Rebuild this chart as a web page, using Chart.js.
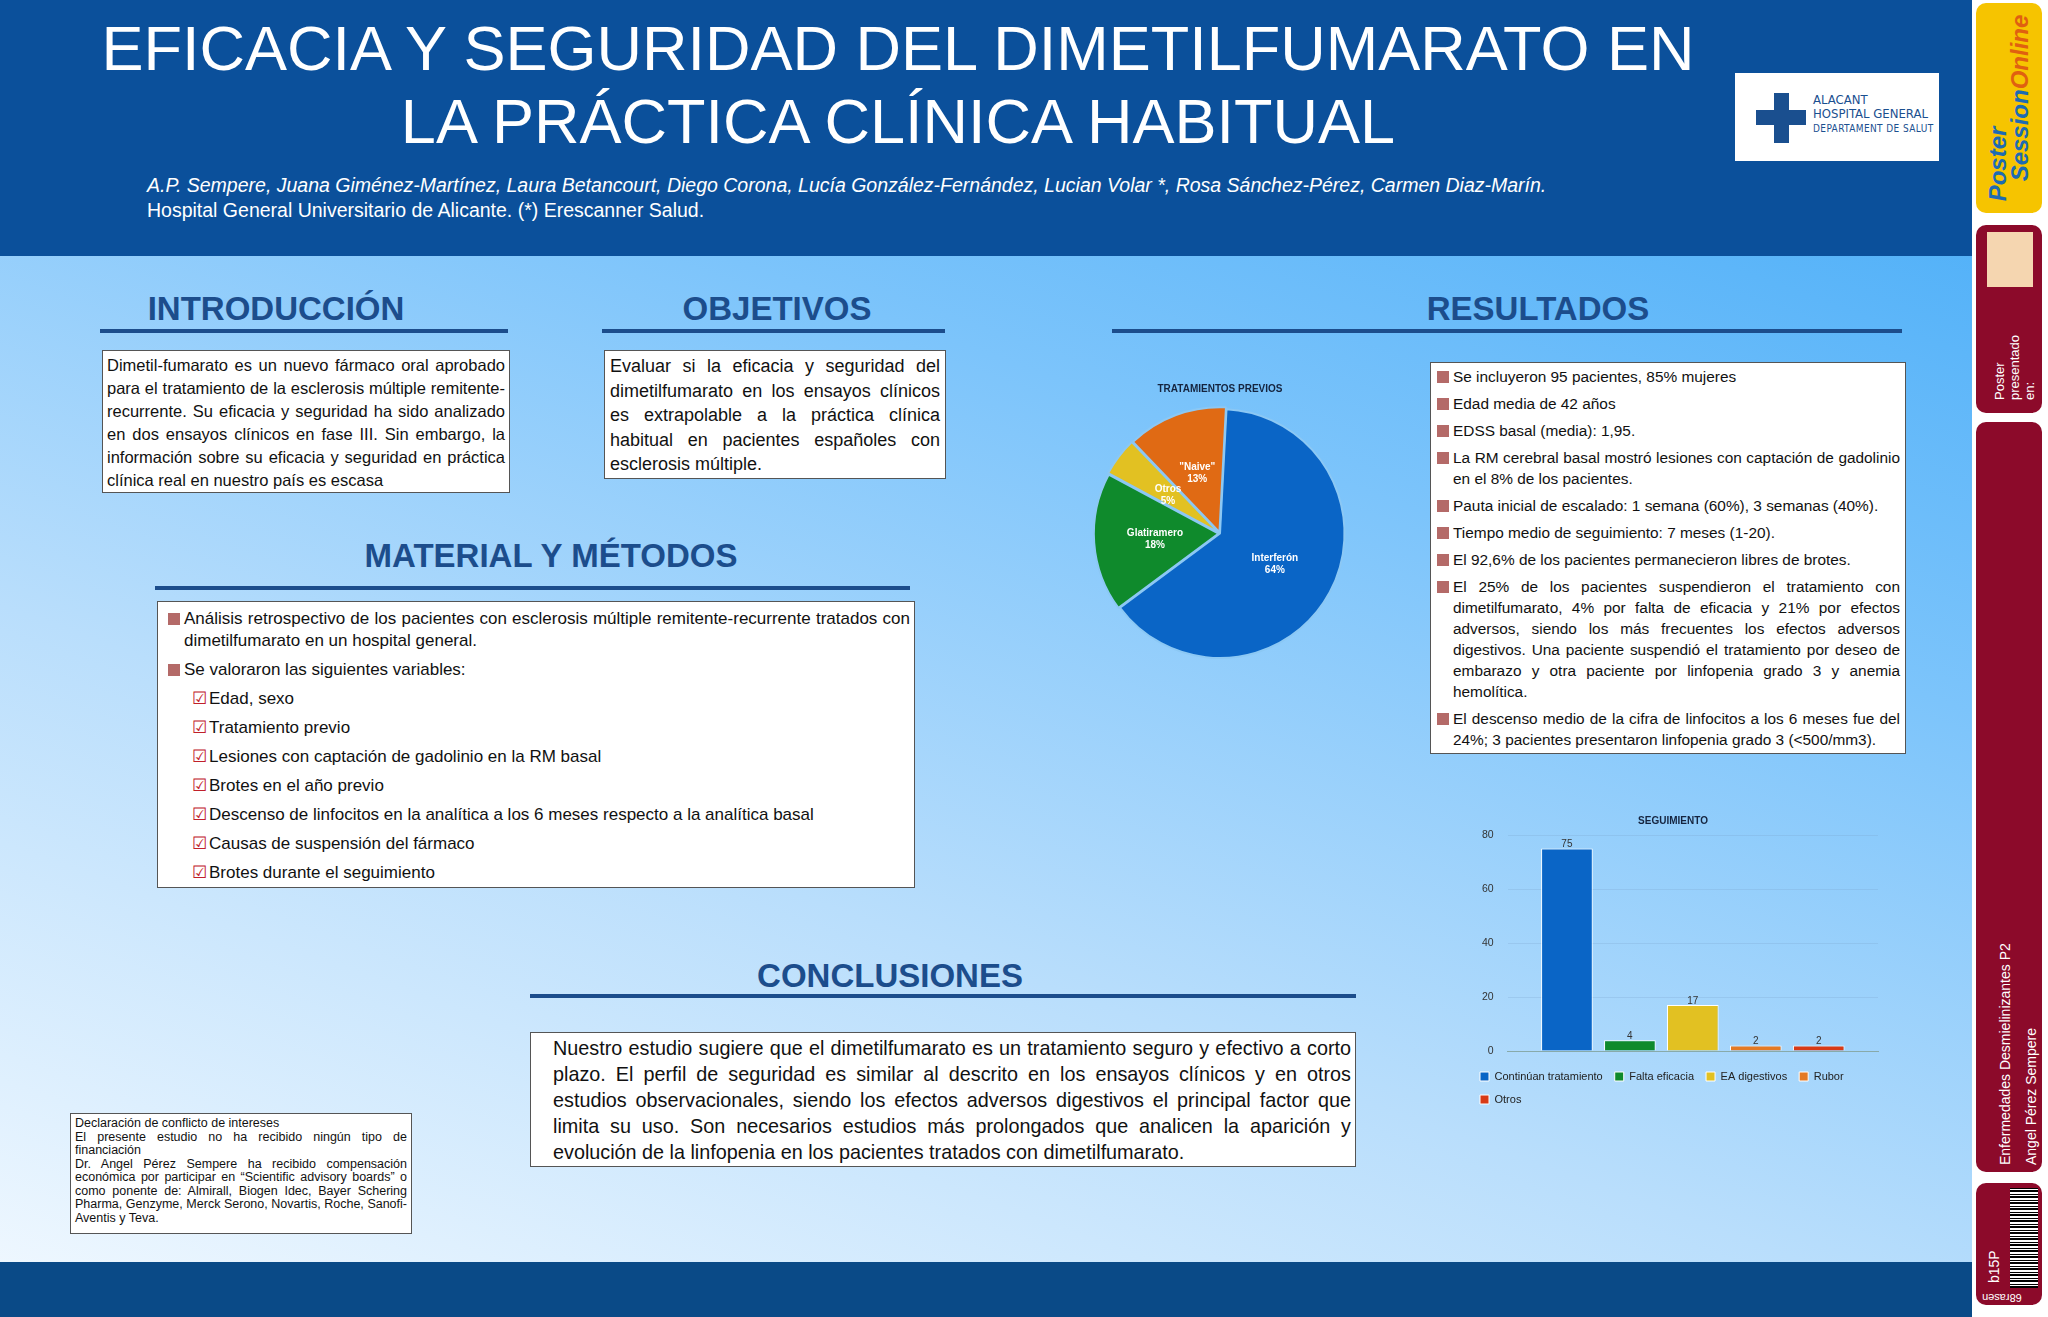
<!DOCTYPE html>
<html><head><meta charset="utf-8">
<script src="https://cdn.jsdelivr.net/npm/chart.js@4"></script>
<style>
body{margin:0;width:2048px;height:1317px;overflow:hidden;font-family:"Liberation Sans",Arial,sans-serif;}
#poster{position:absolute;left:0;top:0;width:1972px;height:1317px;background:linear-gradient(20deg,#f2f9ff 0%,#b9defc 35%,#7cc4fb 65%,#3ea8f7 100%);}
.abs{position:absolute;}
#header{left:0;top:0;width:1972px;height:256px;background:#0b509b;}
.title{color:#fff;font-size:63px;text-align:center;width:1796px;left:0;line-height:73px;top:12px;}
.authors{color:#fff;font-size:19.5px;left:147px;top:173px;line-height:25px;}
.h{color:#1c4d8c;font-weight:bold;font-size:33px;text-align:center;}
.line{height:4px;background:#1c4d8c;}
.box{background:#fff;border:1px solid #555;box-sizing:border-box;color:#111;}
.j{text-align:justify;}
ul{margin:0;padding:0;list-style:none;}
.sq{padding-left:16px;text-indent:-16px;}
.sq::before{content:"";display:inline-block;width:12px;height:12px;background:#b46a68;margin-right:4px;vertical-align:-1px;text-indent:0;}
.ck::before{content:"☑";color:#c0202a;margin-right:2px;}
.side{background:#8c0a2a;border-radius:10px;}
</style></head><body>
<div id="poster">
<div id="header" class="abs"></div>
<div class="abs title">EFICACIA Y SEGURIDAD DEL DIMETILFUMARATO EN<br>LA PRÁCTICA CLÍNICA HABITUAL</div>
<div class="abs" style="left:1735px;top:73px;width:204px;height:88px;background:#fff;"></div>
<div class="abs" style="left:1756px;top:110px;width:50px;height:15px;background:#1a4f8f;"></div>
<div class="abs" style="left:1774px;top:93px;width:15px;height:50px;background:#1a4f8f;"></div>
<div class="abs" style="left:1813px;top:93px;color:#1a4f8f;font-family:'DejaVu Sans Condensed';font-size:13px;line-height:14px;">ALACANT<br>HOSPITAL GENERAL<br><span style="font-size:10px;letter-spacing:0.4px">DEPARTAMENT DE SALUT</span></div>
<div class="abs authors"><i>A.P. Sempere, Juana Giménez-Martínez, Laura Betancourt, Diego Corona, Lucía González-Fernández, Lucian Volar *, Rosa Sánchez-Pérez, Carmen Diaz-Marín.</i><br>Hospital General Universitario de Alicante. (*) Erescanner Salud.</div>

<div class="abs h" style="left:100px;width:352px;top:290px;">INTRODUCCIÓN</div>
<div class="abs line" style="left:100px;width:408px;top:329px;"></div>
<div class="abs box j" style="left:102px;top:350px;width:408px;height:143px;font-size:16.5px;line-height:23px;padding:3px 4px;">Dimetil-fumarato es un nuevo fármaco oral aprobado para el tratamiento de la esclerosis múltiple remitente-recurrente. Su eficacia y seguridad ha sido analizado en dos ensayos clínicos en fase III. Sin embargo, la información sobre su eficacia y seguridad en práctica clínica real en nuestro país es escasa</div>

<div class="abs h" style="left:602px;width:350px;top:290px;">OBJETIVOS</div>
<div class="abs line" style="left:602px;width:343px;top:329px;"></div>
<div class="abs box j" style="left:604px;top:350px;width:342px;height:129px;font-size:18px;line-height:24.5px;padding:3px 5px;">Evaluar si la eficacia y seguridad del dimetilfumarato en los ensayos clínicos es extrapolable a la práctica clínica habitual en pacientes españoles con esclerosis múltiple.</div>

<div class="abs h" style="left:1338px;width:400px;top:290px;">RESULTADOS</div>
<div class="abs line" style="left:1112px;width:790px;top:329px;"></div>
<div class="abs box j" style="left:1430px;top:362px;width:476px;height:392px;font-size:15.4px;line-height:21px;padding:3px 5px 0 6px;">
<ul>
<li class="sq" style="margin-bottom:6px">Se incluyeron 95 pacientes, 85% mujeres</li>
<li class="sq" style="margin-bottom:6px">Edad media de 42 años</li>
<li class="sq" style="margin-bottom:6px">EDSS basal (media): 1,95.</li>
<li class="sq" style="margin-bottom:6px">La RM cerebral basal mostró lesiones con captación de gadolinio en el 8% de los pacientes.</li>
<li class="sq" style="margin-bottom:6px">Pauta inicial de escalado: 1 semana (60%), 3 semanas (40%).</li>
<li class="sq" style="margin-bottom:6px">Tiempo medio de seguimiento: 7 meses (1-20).</li>
<li class="sq" style="margin-bottom:6px">El 92,6% de los pacientes permanecieron libres de brotes.</li>
<li class="sq" style="margin-bottom:6px">El 25% de los pacientes suspendieron el tratamiento con dimetilfumarato, 4% por falta de eficacia y 21% por efectos adversos, siendo los más frecuentes los efectos adversos digestivos. Una paciente suspendió el tratamiento por deseo de embarazo y otra paciente por linfopenia grado 3 y anemia hemolítica.</li>
<li class="sq">El descenso medio de la cifra de linfocitos a los 6 meses fue del 24%; 3 pacientes presentaron linfopenia grado 3 (&lt;500/mm3).</li>
</ul></div>

<div class="abs h" style="left:151px;width:800px;top:537px;">MATERIAL Y MÉTODOS</div>
<div class="abs line" style="left:155px;width:755px;top:586px;"></div>
<div class="abs box" style="left:157px;top:601px;width:758px;height:287px;font-size:17px;line-height:22px;padding:6px 4px 0 10px;">
<ul>
<li class="sq j" style="margin-bottom:7px">Análisis retrospectivo de los pacientes con esclerosis múltiple remitente-recurrente tratados con dimetilfumarato en un hospital general.</li>
<li class="sq" style="margin-bottom:7px">Se valoraron las siguientes variables:</li>
<li class="ck" style="margin:0 0 7px 24px">Edad, sexo</li>
<li class="ck" style="margin:0 0 7px 24px">Tratamiento previo</li>
<li class="ck" style="margin:0 0 7px 24px">Lesiones con captación de gadolinio en la RM basal</li>
<li class="ck" style="margin:0 0 7px 24px">Brotes en el año previo</li>
<li class="ck" style="margin:0 0 7px 24px">Descenso de linfocitos en la analítica a los 6 meses respecto a la analítica basal</li>
<li class="ck" style="margin:0 0 7px 24px">Causas de suspensión del fármaco</li>
<li class="ck" style="margin:0 0 0 24px">Brotes durante el seguimiento</li>
</ul></div>

<div class="abs h" style="left:690px;width:400px;top:957px;">CONCLUSIONES</div>
<div class="abs line" style="left:530px;width:826px;top:994px;"></div>
<div class="abs box j" style="left:530px;top:1032px;width:826px;height:135px;font-size:19.8px;line-height:26px;padding:2px 4px 0 22px;">Nuestro estudio sugiere que el dimetilfumarato es un tratamiento seguro y efectivo a corto plazo. El perfil de seguridad es similar al descrito en los ensayos clínicos y en otros estudios observacionales, siendo los efectos adversos digestivos el principal factor que limita su uso. Son necesarios estudios más prolongados que analicen la aparición y evolución de la linfopenia en los pacientes tratados con dimetilfumarato.</div>

<div class="abs box j" style="left:70px;top:1113px;width:342px;height:121px;font-size:12.5px;line-height:13.5px;padding:3px 4px;">Declaración de conflicto de intereses<br>El presente estudio no ha recibido ningún tipo de financiación<br>Dr. Angel Pérez Sempere ha recibido compensación económica por participar en “Scientific advisory boards” o como ponente de: Almirall, Biogen Idec, Bayer Schering Pharma, Genzyme, Merck Serono, Novartis, Roche, Sanofi-Aventis y Teva.</div>

<div class="abs" style="left:0;top:1262px;width:1972px;height:55px;background:#0a4a87;"></div>

<div class="abs" style="left:1075px;top:375px;width:290px;height:295px;"><canvas id="pie"></canvas></div>
<div class="abs" style="left:1468px;top:803px;width:430px;height:312px;"><canvas id="bar"></canvas></div>
</div>

<div class="abs" style="left:1972px;top:0;width:76px;height:1317px;background:#fff;">
<div class="abs" style="left:4px;top:3px;width:66px;height:210px;background:#f6c400;border-radius:10px;"></div>
<div class="abs" style="left:37px;top:108px;transform:translate(-50%,-50%) rotate(-90deg);white-space:nowrap;color:#1d6bb3;font-weight:bold;font-style:italic;font-size:24px;line-height:22px;">Poster<br>&nbsp;&nbsp;&nbsp;Session<span style="color:#e06010">Online</span></div>
<div class="abs side" style="left:4px;top:225px;width:66px;height:188px;"></div>
<div class="abs" style="left:15px;top:232px;width:46px;height:55px;background:#f5d6b0;"></div>
<div class="abs" style="left:20px;top:400px;transform:rotate(-90deg);transform-origin:0 0;color:#fff;font-size:13px;line-height:15px;">Poster<br>presentado<br>en:</div>
<div class="abs side" style="left:4px;top:422px;width:66px;height:750px;"></div>
<div class="abs" style="left:20px;top:1165px;transform:rotate(-90deg);transform-origin:0 0;color:#fff;font-size:14px;line-height:26px;white-space:nowrap;">Enfermedades Desmielinizantes P2<br>Angel Pérez Sempere</div>
<div class="abs side" style="left:4px;top:1183px;width:66px;height:122px;"></div>
<div class="abs" style="left:38px;top:1188px;width:28px;height:100px;background:repeating-linear-gradient(0deg,#000 0 2px,#fff 2px 3px,#000 3px 4px,#fff 4px 6px);"></div>
<div class="abs" style="left:14px;top:1283px;transform:rotate(-90deg);transform-origin:0 0;color:#fff;font-size:14px;">b15P</div>
<div class="abs" style="left:10px;top:1292px;color:#fff;font-size:11px;transform:rotate(180deg);">68rasen</div>
</div>

<script>
const pieLabels = ["Interferón", "Glatiramero", "Otros", "\"Naive\""];
const pieValues = [64, 18, 5, 13];
const pieColors = ["#0a65c6", "#0f8a2c", "#e2c122", "#e06a14"];

const barLabels = ["Continúan tratamiento", "Falta eficacia", "EA digestivos", "Rubor", "Otros"];
const barValues = [75, 4, 17, 2, 2];
const barColors = ["#0a65c6", "#0f8a2c", "#e2c122", "#e47a25", "#d83a16"];
const barTicks = [0, 20, 40, 60, 80];

const pieText = {
  id: "pieText",
  afterDatasetsDraw(chart) {
    const ctx = chart.ctx;
    const meta = chart.getDatasetMeta(0);
    ctx.save();
    ctx.fillStyle = "#fff";
    ctx.font = "bold 10px 'Liberation Sans', Arial";
    ctx.textAlign = "center";
    meta.data.forEach((arc, i) => {
      const p = arc.tooltipPosition();
      ctx.fillText(pieLabels[i], p.x, p.y - 2);
      ctx.fillText(pieValues[i] + "%", p.x, p.y + 10);
    });
    ctx.restore();
  },
};

new Chart(document.getElementById("pie"), {
  type: "pie",
  data: {
    labels: pieLabels,
    datasets: [{ data: pieValues, backgroundColor: pieColors, borderColor: "#8cc8f4", borderWidth: 2, offset: [0, 6, 6, 6] }],
  },
  options: {
    responsive: true, maintainAspectRatio: false, animation: false, rotation: 3,
    layout: { padding: { left: 10, right: 10, bottom: 8 } },
    plugins: {
      legend: { display: false }, tooltip: { enabled: false },
      title: { display: true, text: "TRATAMIENTOS PREVIOS", color: "#15243f", font: { size: 10, weight: "bold", family: "'Liberation Sans', Arial" }, padding: { top: 8, bottom: 10 } },
    },
  },
  plugins: [pieText],
});

const barText = {
  id: "barText",
  afterDatasetsDraw(chart) {
    const ctx = chart.ctx;
    ctx.save();
    ctx.fillStyle = "#333";
    ctx.font = "10px 'Liberation Sans', Arial";
    ctx.textAlign = "center";
    chart.data.datasets.forEach((ds, i) => {
      const bar = chart.getDatasetMeta(i).data[0];
      ctx.fillText(ds.data[0], bar.x, bar.y - 4);
    });
    ctx.restore();
  },
};

new Chart(document.getElementById("bar"), {
  type: "bar",
  data: {
    labels: [""],
    datasets: barLabels.map((l, i) => ({ label: l, data: [barValues[i]], backgroundColor: barColors[i], borderColor: "#fff", borderWidth: 1 })),
  },
  options: {
    responsive: true, maintainAspectRatio: false, animation: false,
    categoryPercentage: 0.85, barPercentage: 0.82,
    layout: { padding: { right: 20 } },
    scales: {
      x: { grid: { display: false }, border: { color: "#8aa" }, ticks: { display: false } },
      y: {
        min: 0, max: 80, afterBuildTicks: (s) => { s.ticks = barTicks.map((v) => ({ value: v })); },
        grid: { color: "rgba(120,160,200,0.25)", drawTicks: false }, border: { display: false },
        ticks: { color: "#333", font: { size: 10.5 }, padding: 14 },
      },
    },
    plugins: {
      tooltip: { enabled: false },
      title: { display: true, text: "SEGUIMIENTO", color: "#15243f", font: { size: 10, weight: "bold" }, padding: { top: 12, bottom: 8 } },
      legend: { position: "bottom", align: "start", labels: { boxWidth: 9, boxHeight: 9, color: "#222", font: { size: 11 }, padding: 12 } },
    },
  },
  plugins: [barText],
});
</script>
</body></html>
